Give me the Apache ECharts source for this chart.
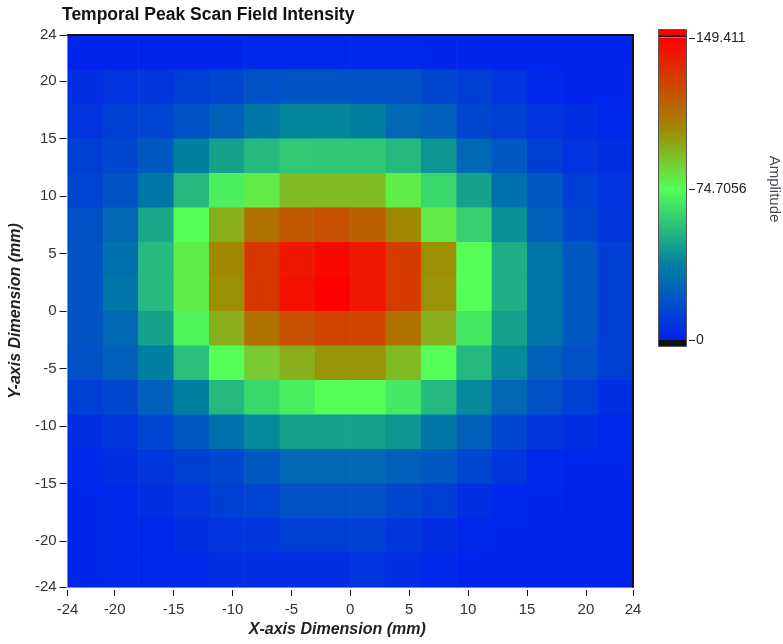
<!DOCTYPE html>
<html><head><meta charset="utf-8">
<script src="https://cdn.jsdelivr.net/npm/echarts@6/dist/echarts.min.js"></script>
<style>html,body{margin:0;padding:0;background:#fff}#c{width:783px;height:644px}</style>
</head><body><div id="c"></div>
<script>
// cell centres (mm)
const xCenters = [-22.5,-19.5,-16.5,-13.5,-10.5,-7.5,-4.5,-1.5,1.5,4.5,7.5,10.5,13.5,16.5,19.5,22.5];
const yCenters = [22.5,19.5,16.5,13.5,10.5,7.5,4.5,1.5,-1.5,-4.5,-7.5,-10.5,-13.5,-16.5,-19.5,-22.5];
// amplitude rows, top (y=22.5) to bottom (y=-22.5)
const amp_y22_5  = [1,1,1,1,2,3,3,3,3,3,2,2,1,1,1,1];
const amp_y19_5  = [6,8,9,12,15.5,18.7,20.6,20.6,18.7,18.7,15.5,12,8,3,2,2];
const amp_y16_5  = [8,12,14,18.7,25,34,39,39,37,28,25,15.5,12,8,6,3];
const amp_y13_5  = [12,15.5,22,37,47,54,58.6,58,58,54,44,28,22,12,8,6];
const amp_y10_5  = [14,20.6,34,54,70,80,92,92,92,79,63,47,31,22,12,8];
const amp_y7_5   = [18.7,28,49,74.7,95,112,120,123,118,104.6,80,61,42,25,15.5,9];
const amp_y4_5   = [20.6,31,54,79,104.6,131,142,147,142,130,103,74.7,51,34,22,12];
const amp_y1_5   = [20.6,33,54,79,103,131,144,149.4,142,130,102,74.7,51,34,22,12];
const amp_ym1_5  = [20.6,28,47,72,95,112,123,127,127,112,95,68,47,34,22,12];
const amp_ym4_5  = [18.7,25,37,56,74.7,88,95,101,101,92,74.7,54,40,25,18.7,12];
const amp_ym7_5  = [12,15.5,25,37,54,63,70,74.7,74.7,68,54,40,28,18.7,12,6];
const amp_ym10_5 = [6,9,14,22,31,40,47,47,47,44,34,25,15.5,9,6,3];
const amp_ym13_5 = [3,6,9,12,15.5,22,28,28,28,25,22,15.5,9,3,2,2];
const amp_ym16_5 = [2,3,6,8,12,14,18.7,18.7,18.7,15.5,12,6,3,2,1,1];
const amp_ym19_5 = [2,3,3,6,8,9,12,12,12,9,6,3,2,1,1,1];
const amp_ym22_5 = [2,3,3,3,6,6,6,6,8,6,3,1,1,1,1,1];
const ampRows = [amp_y22_5,amp_y19_5,amp_y16_5,amp_y13_5,amp_y10_5,amp_y7_5,amp_y4_5,amp_y1_5,
  amp_ym1_5,amp_ym4_5,amp_ym7_5,amp_ym10_5,amp_ym13_5,amp_ym16_5,amp_ym19_5,amp_ym22_5];
const xTicks = [-24,-20,-15,-10,-5,0,5,10,15,20,24];
const yTicks = [-24,-20,-15,-10,-5,0,5,10,15,20,24];
const ampMin = 0, ampMax = 149.411;
const cbTicks = [0, 74.7056, 149.411];
const cbTickLabels = ['0','74.7056','149.411'];

// colour map anchors
const anchors = [[0,[0,32,240]],[0.25,[0,128,160]],[0.5,[85,255,85]],[0.7,[160,136,0]],[1,[255,0,0]]];
function cmap(t){
  for(let i=0;i<anchors.length-1;i++){
    const [t0,c0]=anchors[i],[t1,c1]=anchors[i+1];
    if(t<=t1){const f=(t-t0)/(t1-t0);return 'rgb('+c0.map((v,k)=>Math.round(v+(c1[k]-v)*f)).join(',')+')';}
  }
  return 'rgb(255,0,0)';
}
const colors=[];for(let i=0;i<=40;i++)colors.push(cmap(i/40));

const data=[];
ampRows.forEach((row,ri)=>row.forEach((v,ci)=>data.push([xCenters[ci],yCenters[ri],v])));
const half=(xCenters[1]-xCenters[0])/2;

const FONT="'Liberation Sans',Arial,sans-serif";
const chart=echarts.init(document.getElementById('c'));
chart.setOption({
  backgroundColor:'#fff',
  animation:false,
  title:{text:'Temporal Peak Scan Field Intensity',left:57,top:1,textStyle:{fontFamily:FONT,fontWeight:'bold',fontSize:17.5,color:'#111'}},
  grid:[{left:63,top:35,width:570,height:552,show:true,borderColor:'#b8bcd8',borderWidth:1,backgroundColor:'transparent'},
        {left:659,top:38,width:27,height:302}],
  visualMap:{show:false,type:'continuous',min:ampMin,max:ampMax,dimension:2,seriesIndex:0,inRange:{color:colors}},
  xAxis:[
    {gridIndex:0,type:'value',min:-24,max:24,position:'bottom',offset:3,z:10,
     axisLine:{show:false,onZero:false},
     axisTick:{customValues:xTicks,length:6,lineStyle:{color:'#111'}},
     axisLabel:{customValues:xTicks,fontFamily:FONT,fontSize:15,color:'#333',margin:12},
     splitLine:{show:false},
     name:'X-axis Dimension (mm)',nameLocation:'middle',nameGap:30,
     nameTextStyle:{fontFamily:FONT,fontWeight:'bold',fontStyle:'italic',fontSize:16,color:'#222',padding:[0,26,0,0]}},
    {gridIndex:0,type:'value',min:-24,max:24,position:'top',z:10,
     axisLine:{onZero:false,lineStyle:{color:'#111',width:2}},axisTick:{show:false},axisLabel:{show:false},splitLine:{show:false}},
    {gridIndex:1,type:'value',min:0,max:1,show:false,axisLine:{onZero:false}}
  ],
  yAxis:[
    {gridIndex:0,type:'value',min:-24,max:24,position:'left',offset:1,z:10,
     axisLine:{show:false,onZero:false},
     axisTick:{customValues:yTicks,length:7,lineStyle:{color:'#111'}},
     axisLabel:{customValues:yTicks,fontFamily:FONT,fontSize:15,color:'#333',margin:10},
     splitLine:{show:false},
     name:'Y-axis Dimension (mm)',nameLocation:'middle',nameGap:41,nameRotate:90,
     nameTextStyle:{fontFamily:FONT,fontWeight:'bold',fontStyle:'italic',fontSize:16,color:'#222'}},
    {gridIndex:0,type:'value',min:-24,max:24,position:'right',z:10,
     axisLine:{onZero:false,lineStyle:{color:'#111',width:2}},axisTick:{show:false},axisLabel:{show:false},splitLine:{show:false}},
    {gridIndex:1,type:'value',min:ampMin,max:ampMax,position:'right',offset:3,z:10,
     axisLine:{show:false,onZero:false},
     axisTick:{customValues:cbTicks,length:6,lineStyle:{color:'#222'}},
     axisLabel:{customValues:cbTicks,fontFamily:FONT,fontSize:14,color:'#222',margin:7,
       formatter:v=>{let b=0;cbTicks.forEach((t,i)=>{if(Math.abs(t-v)<Math.abs(cbTicks[b]-v))b=i;});return cbTickLabels[b];}},
     splitLine:{show:false},
     name:'Amplitude',nameLocation:'middle',nameGap:78,nameRotate:-90,
     nameTextStyle:{fontFamily:FONT,fontSize:15,color:'#445'}}
  ],
  series:[
    {type:'custom',xAxisIndex:0,yAxisIndex:0,data:data,encode:{x:0,y:1},
     renderItem:(params,api)=>{
       const x=api.value(0),y=api.value(1);
       const p0=api.coord([x-half,y+half]),p1=api.coord([x+half,y-half]);
       return {type:'rect',shape:{x:p0[0],y:p0[1],width:p1[0]-p0[0]+0.6,height:p1[1]-p0[1]+0.6},style:{fill:api.visual('color')}};
     }},
    {type:'custom',xAxisIndex:2,yAxisIndex:2,data:[[0,ampMin,1,ampMax]],silent:true,
     renderItem:(params,api)=>{
       const pTop=api.coord([api.value(0),api.value(3)]),pBot=api.coord([api.value(2),api.value(1)]);
       const w=pBot[0]-pTop[0],h=pBot[1]-pTop[1];
       const stops=colors.map((c,i)=>({offset:1-i/(colors.length-1),color:c}));
       return {type:'group',children:[
         {type:'rect',shape:{x:pTop[0],y:pTop[1]-8,width:w,height:6},style:{fill:'#ff0000'}},
         {type:'rect',shape:{x:pTop[0],y:pTop[1]-2.5,width:w,height:2},style:{fill:'#111'}},
         {type:'rect',shape:{x:pTop[0],y:pTop[1],width:w,height:h},style:{fill:new echarts.graphic.LinearGradient(0,0,0,1,stops)}},
         {type:'rect',shape:{x:pTop[0],y:pBot[1],width:w,height:6},style:{fill:'#111'}},
         {type:'rect',shape:{x:pTop[0]-0.5,y:pTop[1]-8.5,width:w+1,height:h+15},style:{fill:'none',stroke:'#555',lineWidth:1}}
       ]};
     }}
  ]
});
</script></body></html>
